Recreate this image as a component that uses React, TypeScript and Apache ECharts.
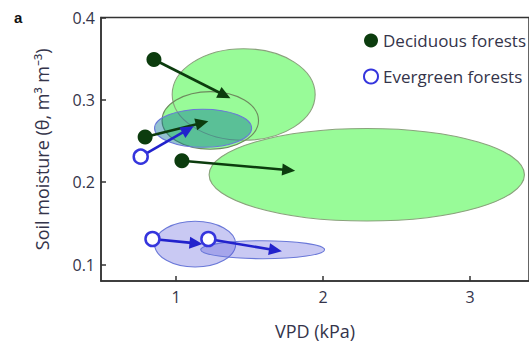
import React, { useEffect, useRef } from "react";
import * as echarts from "echarts";

// Start and end of each site's shift: [vpd, theta]
const deciduousStart: number[][] = [
  [0.85, 0.349],
  [0.79, 0.255],
  [1.04, 0.226],
];
const deciduousEnd: number[][] = [
  [1.37, 0.302],
  [1.22, 0.274],
  [1.81, 0.214],
];
const evergreenStart: number[][] = [
  [0.76, 0.231],
  [0.84, 0.131],
  [1.22, 0.131],
];
const evergreenEnd: number[][] = [
  [1.12, 0.268],
  [1.18, 0.125],
  [1.72, 0.116],
];

// Spread ellipses: [centre vpd, centre theta, half-width (kPa), half-height (m3 m-3)]
const deciduousSpread: number[][] = [
  [1.46, 0.3065, 0.486, 0.0556],
  [1.233, 0.275, 0.328, 0.035],
  [2.297, 0.209, 1.072, 0.0562],
];
const deciduousOutline = ["#8aa27c", "#6e8a5e", "#8aa27c"];
const evergreenSpread: number[][] = [
  [1.184, 0.2655, 0.33, 0.023],
  [1.13, 0.1248, 0.276, 0.0278],
  [1.589, 0.118, 0.421, 0.0109],
];
const evergreenFill = [
  "rgba(15,120,150,0.45)",
  "rgba(90,90,220,0.33)",
  "rgba(90,90,220,0.33)",
];

const xTicks = [1, 2, 3];
const yTicks = [0.1, 0.2, 0.3, 0.4];

const FONT = "'Open Sans', 'Noto Sans', sans-serif";
const TEXT = "#34344a";
const DARK_GREEN = "#0c3c0e";
const BLUE = "#2222cc";

function pairs(a: number[][], b: number[][]) {
  return a.map((p, i) => [p[0], p[1], b[i][0], b[i][1]]);
}

function arrowRender(color: string) {
  return (params: any, api: any) => {
    const p0 = api.coord([api.value(0), api.value(1)]);
    const p1 = api.coord([api.value(2), api.value(3)]);
    const dx = p1[0] - p0[0];
    const dy = p1[1] - p0[1];
    const len = Math.sqrt(dx * dx + dy * dy) || 1;
    const ux = dx / len;
    const uy = dy / len;
    const L = 13;
    const W = 6;
    const bx = p1[0] - ux * L;
    const by = p1[1] - uy * L;
    return {
      type: "group",
      children: [
        {
          type: "line",
          shape: { x1: p0[0], y1: p0[1], x2: bx + ux * 2, y2: by + uy * 2 },
          style: { stroke: color, lineWidth: 2.6 },
        },
        {
          type: "polygon",
          shape: {
            points: [
              [p1[0], p1[1]],
              [bx - uy * W, by + ux * W],
              [bx + uy * W, by - ux * W],
            ],
          },
          style: { fill: color },
        },
      ],
    };
  };
}

function ellipseRender(fills: string[] | string, strokes: string[] | string, lw: number) {
  return (params: any, api: any) => {
    const c = api.coord([api.value(0), api.value(1)]);
    const s = api.size([api.value(2), api.value(3)]);
    const fill = Array.isArray(fills) ? fills[params.dataIndex] : fills;
    const stroke = Array.isArray(strokes) ? strokes[params.dataIndex] : strokes;
    return {
      type: "ellipse",
      shape: { cx: c[0], cy: c[1], rx: s[0], ry: s[1] },
      style: { fill, stroke, lineWidth: lw },
    };
  };
}

export default function App() {
  const ref = useRef<HTMLDivElement>(null);

  useEffect(() => {
    if (!ref.current) return;
    const chart = echarts.init(ref.current, null, { renderer: "svg" });
    chart.setOption({
      animation: false,
      backgroundColor: "#ffffff",
      grid: {
        left: 101,
        top: 17.5,
        right: -3.3,
        bottom: 62,
        show: true,
        borderColor: "#333333",
        borderWidth: 1.5,
        backgroundColor: "transparent",
      },
      graphic: [
        {
          type: "text",
          left: 14,
          top: 10,
          style: {
            text: "a",
            font: "bold 15px 'Liberation Sans', Arial, sans-serif",
            fill: "#111111",
          },
        },
      ],
      legend: {
        data: [
          { name: "Deciduous forests", icon: "circle" },
          { name: "Evergreen forests", icon: "circle" },
        ],
        orient: "vertical",
        left: 363,
        top: 32,
        padding: 0,
        itemWidth: 14,
        itemHeight: 14,
        itemGap: 19,
        textStyle: { fontFamily: FONT, fontSize: 17, color: TEXT },
      },
      xAxis: {
        type: "value",
        min: 0.49,
        max: 3.4,
        name: "VPD (kPa)",
        nameLocation: "middle",
        nameGap: 41,
        nameTextStyle: { fontFamily: FONT, fontSize: 18, color: TEXT },
        axisLine: { show: true, lineStyle: { color: "#333333", width: 1.5 } },
        axisTick: {
          show: true,
          inside: true,
          length: 5,
          customValues: xTicks,
          lineStyle: { color: "#333333", width: 1.5 },
        },
        axisLabel: {
          customValues: xTicks,
          margin: 8,
          fontFamily: FONT,
          fontSize: 16,
          color: TEXT,
        },
        splitLine: { show: false },
      },
      yAxis: {
        type: "value",
        min: 0.08,
        max: 0.4,
        name: "Soil moisture (θ, m³ m⁻³)",
        nameLocation: "middle",
        nameGap: 50,
        nameTextStyle: { fontFamily: FONT, fontSize: 18, color: TEXT },
        axisLine: { show: true, lineStyle: { color: "#333333", width: 1.5 } },
        axisTick: {
          show: true,
          inside: true,
          length: 5,
          customValues: yTicks,
          lineStyle: { color: "#333333", width: 1.5 },
        },
        axisLabel: {
          customValues: yTicks,
          margin: 6,
          fontFamily: FONT,
          fontSize: 16,
          color: TEXT,
          formatter: (v: number) => v.toFixed(1),
        },
        splitLine: { show: false },
      },
      series: [
        {
          type: "custom",
          name: "deciduous spread fill",
          z: 1,
          silent: true,
          encode: { x: 0, y: 1 },
          data: deciduousSpread,
          renderItem: ellipseRender("#98fb98", "none", 1),
        },
        {
          type: "custom",
          name: "deciduous spread outline",
          z: 2,
          silent: true,
          encode: { x: 0, y: 1 },
          data: deciduousSpread,
          renderItem: ellipseRender("none", deciduousOutline, 1.1),
        },
        {
          type: "custom",
          name: "evergreen spread",
          z: 3,
          silent: true,
          encode: { x: 0, y: 1 },
          data: evergreenSpread,
          renderItem: ellipseRender(evergreenFill, "#6a78d8", 1.1),
        },
        {
          type: "custom",
          name: "deciduous shift",
          z: 4,
          silent: true,
          encode: { x: 0, y: 1 },
          data: pairs(deciduousStart, deciduousEnd),
          renderItem: arrowRender(DARK_GREEN),
        },
        {
          type: "custom",
          name: "evergreen shift",
          z: 4,
          silent: true,
          encode: { x: 0, y: 1 },
          data: pairs(evergreenStart, evergreenEnd),
          renderItem: arrowRender(BLUE),
        },
        {
          type: "scatter",
          name: "Deciduous forests",
          z: 5,
          symbol: "circle",
          symbolSize: 15,
          itemStyle: { color: DARK_GREEN, opacity: 1 },
          data: deciduousStart,
        },
        {
          type: "scatter",
          name: "Evergreen forests",
          z: 5,
          symbol: "circle",
          symbolSize: 14,
          itemStyle: { color: "#ffffff", borderColor: "#3535dd", borderWidth: 2.5, opacity: 1 },
          data: evergreenStart,
        },
      ],
    });
    return () => chart.dispose();
  }, []);

  return (
    <div
      ref={ref}
      style={{ position: "fixed", left: 0, top: 0, width: 529, height: 345 }}
    />
  );
}
